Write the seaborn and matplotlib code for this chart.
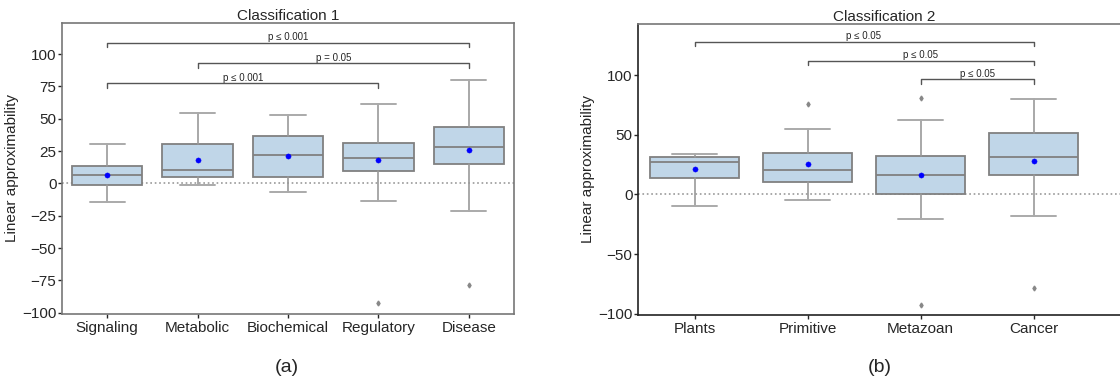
import numpy as np
import matplotlib
matplotlib.use("Agg")
import matplotlib.pyplot as plt
import seaborn as sns

# ----------- data -----------
cats1 = ["Signaling", "Metabolic", "Biochemical", "Regulatory", "Disease"]
whislo1 = [-14.3, -1.4, -6.8, -14.0, -21.0]
q1_1 = [-1.2, 4.8, 5.3, 9.4, 15.1]
med1 = [6.3, 10.2, 21.7, 19.9, 28.4]
q3_1 = [13.3, 30.8, 36.9, 31.3, 43.9]
whishi1 = [30.5, 54.4, 52.6, 61.6, 79.9]
mean1 = [6.6, 18.4, 21.2, 18.1, 26.1]
fliers1 = [[], [], [], [-92.8], [-78.9]]

cats2 = ["Plants", "Primitive", "Metazoan", "Cancer"]
whislo2 = [-9.8, -4.5, -20.7, -18.2]
q1_2 = [13.7, 10.3, 0.3, 16.2]
med2 = [27.1, 20.7, 16.2, 31.3]
q3_2 = [31.0, 34.6, 31.8, 51.7]
whishi2 = [34.1, 54.7, 62.3, 79.6]
mean2 = [21.2, 25.1, 16.5, 27.9]
fliers2 = [[], [75.7], [80.4, -92.5], [-78.5]]

# significance brackets: (from, to, height, label)
sig1 = [(0, 4, 108.8, "p ≤ 0.001"), (1, 4, 92.8, "p = 0.05"), (0, 3, 77.3, "p ≤ 0.001")]
sig2 = [(0, 3, 127.7, "p ≤ 0.05"), (1, 3, 112.0, "p ≤ 0.05"), (2, 3, 96.4, "p ≤ 0.05")]

sns.set_theme(style="white")
plt.rcParams["font.family"] = ["Liberation Sans", "DejaVu Sans"]

BOX = "#c0d6e8"
EDGE = "#808080"


def draw_panel(ax, cats, lo, q1, med, q3, hi, means, fliers, sig, title, ylim, xmax):
    stats = []
    for i in range(len(cats)):
        stats.append(dict(whislo=lo[i], q1=q1[i], med=med[i], q3=q3[i],
                          whishi=hi[i], fliers=fliers[i], label=cats[i]))
    pos = np.arange(len(cats))
    ax.bxp(stats, positions=pos, widths=0.78, patch_artist=True, showfliers=True,
           boxprops=dict(facecolor=BOX, edgecolor=EDGE, linewidth=1.3),
           medianprops=dict(color=EDGE, linewidth=1.3),
           whiskerprops=dict(color="#999999", linewidth=1.2),
           capprops=dict(color="#aaaaaa", linewidth=1.4),
           capwidths=0.39,
           flierprops=dict(marker="d", markersize=2.5, markerfacecolor="#888888",
                           markeredgecolor="#888888"))
    sns.scatterplot(x=pos, y=means, color="blue", s=14, edgecolor="blue", zorder=5, ax=ax)
    ax.axhline(0, color="#999999", linestyle=":", linewidth=1.2, zorder=0)

    for a, b, h, lab in sig:
        ax.plot([a, a, b, b], [h - 3.7, h, h, h - 3.7], color="#555555", linewidth=1.0)
        ax.text((a + b) / 2, h + 0.5, lab, ha="center", va="bottom", fontsize=7)

    ax.set_xlim(-0.5, xmax)
    ax.set_ylim(*ylim)
    ax.set_xticks(pos)
    ax.set_xticklabels(cats, fontsize=11)
    ax.tick_params(axis="y", labelsize=11, left=True, length=3, width=1, pad=1)
    ax.tick_params(axis="x", bottom=True, length=3, width=1, pad=2)
    ax.set_ylabel("Linear approximability", fontsize=11, labelpad=2)
    ax.set_xlabel("")
    ax.set_title(title, fontsize=11, pad=2)
    for s in ax.spines.values():
        s.set_color("#777777")
        s.set_linewidth(1.2)


fig = plt.figure(figsize=(11.2, 3.83), dpi=100)
ax1 = fig.add_axes([62 / 1120, 69 / 383, 452 / 1120, 291 / 383])
ax2 = fig.add_axes([638 / 1120, 68 / 383, 492 / 1120, 291.3 / 383])

draw_panel(ax1, cats1, whislo1, q1_1, med1, q3_1, whishi1, mean1, fliers1, sig1,
           "Classification 1", (-101, 124), 4.5)
ax1.set_yticks([-100, -75, -50, -25, 0, 25, 50, 75, 100])
draw_panel(ax2, cats2, whislo2, q1_2, med2, q3_2, whishi2, mean2, fliers2, sig2,
           "Classification 2", (-101, 143), -0.5 + 492 / 113)
ax2.set_yticks([-100, -50, 0, 50, 100])
ax2.spines["left"].set_color("#222222")
ax2.spines["bottom"].set_color("#222222")

fig.text(287 / 1120, 1 - 368 / 383, "(a)", ha="center", va="center", fontsize=14)
fig.text(880 / 1120, 1 - 368 / 383, "(b)", ha="center", va="center", fontsize=14)

fig.savefig("out.png", dpi=100)
